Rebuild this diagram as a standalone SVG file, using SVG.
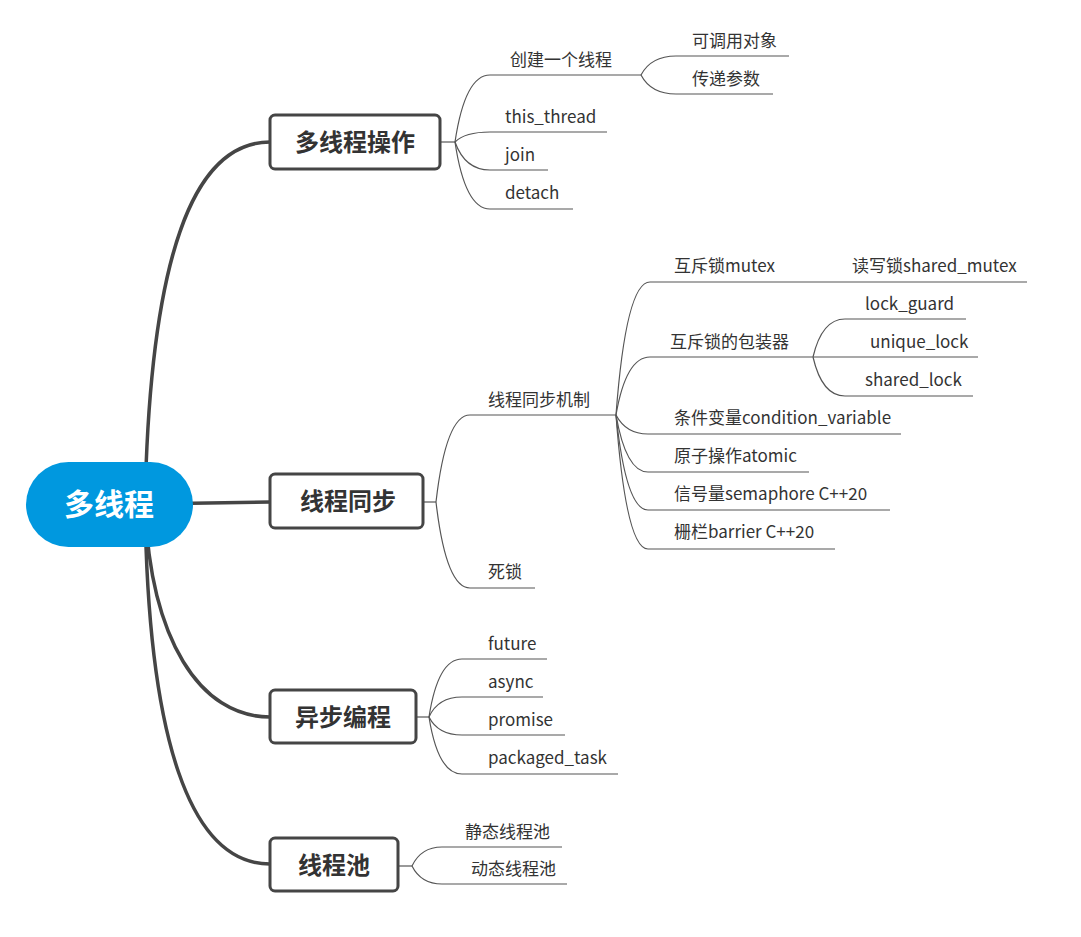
<svg xmlns="http://www.w3.org/2000/svg" width="1081" height="937" viewBox="0 0 1081 937">
<style>
.main{fill:none;stroke:#454545;stroke-width:3.5;stroke-linecap:round}
.thin{fill:none;stroke:#555;stroke-width:1.2}
.box{fill:#fff;stroke:#454545;stroke-width:3}
.t{font-family:"Noto Sans CJK SC","Microsoft YaHei",sans-serif;font-size:17px;fill:#333}
.b{font-family:"Noto Sans CJK SC","Microsoft YaHei",sans-serif;font-size:24px;font-weight:bold;fill:#333;text-anchor:middle}
.r{font-family:"Noto Sans CJK SC","Microsoft YaHei",sans-serif;font-size:30px;font-weight:bold;fill:#fff;text-anchor:middle}
</style>
<rect width="1081" height="937" fill="#fff"/>
<g id="connectors">
<path class="main" d="M145,504 C150,250 195,142 270,142"/>
<path class="main" d="M145,504 L270,502"/>
<path class="main" d="M145,504 C150,640 200,717 270,717"/>
<path class="main" d="M145,504 C148,740 190,864 270,864"/>
<!-- 多线程操作 -->
<path class="thin" d="M440,142 L455,142"/>
<path class="thin" d="M455,142 Q465,75 490,75 L641,75"/>
<path class="thin" d="M455,142 Q465,132 490,132 L607,132"/>
<path class="thin" d="M455,142 Q465,170 490,170 L548,170"/>
<path class="thin" d="M455,142 Q465,209 490,209 L573,209"/>
<path class="thin" d="M641,75 Q651,56 676,56 L789,56"/>
<path class="thin" d="M641,75 Q651,94 676,94 L773,94"/>
<!-- 线程同步 -->
<path class="thin" d="M423,502 L436,502"/>
<path class="thin" d="M436,502 Q446,415 470,415 L616,415"/>
<path class="thin" d="M436,502 Q446,588 470,588 L535,588"/>
<path class="thin" d="M616,415 Q626,282 650,282 L1027,282"/>
<path class="thin" d="M616,415 Q626,357 650,357 L813,357"/>
<path class="thin" d="M616,415 Q626,434 648,434 L901,434"/>
<path class="thin" d="M616,415 Q626,472 648,472 L809,472"/>
<path class="thin" d="M616,415 Q626,510 648,510 L890,510"/>
<path class="thin" d="M616,415 Q626,549 648,549 L835,549"/>
<path class="thin" d="M813,357 Q822,319 845,319 L966,319"/>
<path class="thin" d="M813,357 L978,357"/>
<path class="thin" d="M813,357 Q822,396 845,396 L973,396"/>
<!-- 异步编程 -->
<path class="thin" d="M416,717 L429,717"/>
<path class="thin" d="M429,717 Q438,659 462,659 L547,659"/>
<path class="thin" d="M429,717 Q438,697 462,697 L543,697"/>
<path class="thin" d="M429,717 Q438,735 462,735 L565,735"/>
<path class="thin" d="M429,717 Q438,774 462,774 L618,774"/>
<!-- 线程池 -->
<path class="thin" d="M398,866 L412,866"/>
<path class="thin" d="M412,866 Q421,847 442,847 L562,847"/>
<path class="thin" d="M412,866 Q421,884 442,884 L567,884"/>
</g>
<g id="root">
<rect x="26" y="462" width="167" height="85" rx="42.5" fill="#0098df"/>
<text class="r" x="109" y="515">多线程</text>
</g>
<g id="n-ops">
<rect class="box" x="270" y="115" width="170" height="54" rx="5"/>
<text class="b" x="355" y="151">多线程操作</text>
</g>
<g id="n-sync">
<rect class="box" x="270" y="474" width="153" height="54" rx="5"/>
<text class="b" x="348" y="510">线程同步</text>
</g>
<g id="n-async">
<rect class="box" x="270" y="690" width="146" height="53" rx="5"/>
<text class="b" x="343" y="726">异步编程</text>
</g>
<g id="n-pool">
<rect class="box" x="270" y="838" width="128" height="53" rx="5"/>
<text class="b" x="334" y="874">线程池</text>
</g>
<g id="leaves">
<text class="t" x="510" y="66">创建一个线程</text>
<text class="t" x="692" y="47">可调用对象</text>
<text class="t" x="692" y="85">传递参数</text>
<text class="t" x="505" y="123">this_thread</text>
<text class="t" x="505" y="161">join</text>
<text class="t" x="505" y="199">detach</text>
<text class="t" x="488" y="406">线程同步机制</text>
<text class="t" x="488" y="578">死锁</text>
<text class="t" x="674" y="272">互斥锁mutex</text>
<text class="t" x="852" y="272">读写锁shared_mutex</text>
<text class="t" x="865" y="310">lock_guard</text>
<text class="t" x="670" y="348">互斥锁的包装器</text>
<text class="t" x="870" y="348">unique_lock</text>
<text class="t" x="865" y="386">shared_lock</text>
<text class="t" x="674" y="424">条件变量condition_variable</text>
<text class="t" x="674" y="462">原子操作atomic</text>
<text class="t" x="674" y="500">信号量semaphore C++20</text>
<text class="t" x="674" y="538">栅栏barrier C++20</text>
<text class="t" x="488" y="650">future</text>
<text class="t" x="488" y="688">async</text>
<text class="t" x="488" y="726">promise</text>
<text class="t" x="488" y="764">packaged_task</text>
<text class="t" x="465" y="838">静态线程池</text>
<text class="t" x="471" y="875">动态线程池</text>
</g>
</svg>
